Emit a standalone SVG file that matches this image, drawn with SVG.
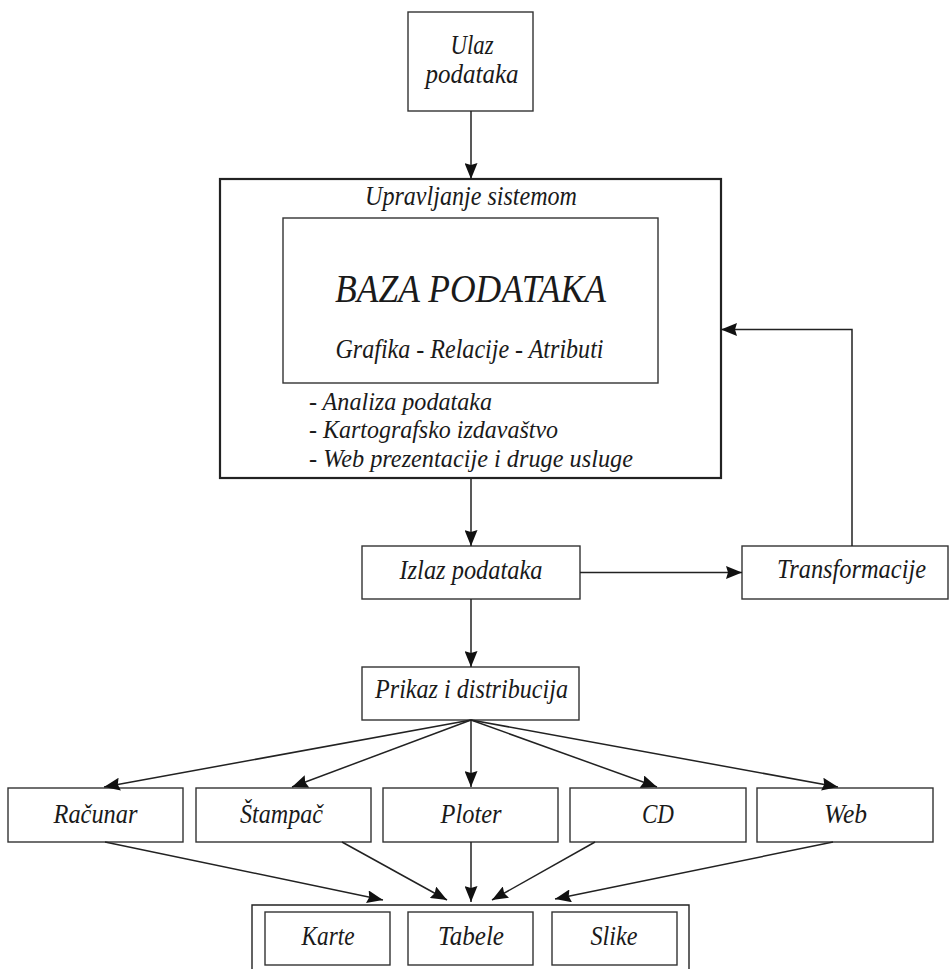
<svg xmlns="http://www.w3.org/2000/svg" width="950" height="969" viewBox="0 0 950 969">
  <style>
    .box { fill: #fff; stroke: #333; stroke-width: 1.4; }
    .thick { fill: none; stroke: #222; stroke-width: 2.2; }
    .t { font-family: "Liberation Serif", "Times New Roman", serif; font-style: italic; font-size: 28px; fill: #1a1a1a; text-anchor: middle; }
    .big { font-size: 40px; }
    .left { text-anchor: start; font-size: 25px; }
    .edge { fill: none; stroke: #222; stroke-width: 1.5; marker-end: url(#arrow); }
    .plain { fill: none; stroke: #222; stroke-width: 1.4; }
  </style>
  <defs>
    <marker id="arrow" viewBox="0 0 16 13" refX="16" refY="6.5" markerWidth="16" markerHeight="13" markerUnits="userSpaceOnUse" orient="auto">
      <path d="M0,0 L16,6.5 L0,13 L2,6.5 z" fill="#111"/>
    </marker>
  </defs>
  <rect width="950" height="969" fill="#fff"/>

  <g id="ulaz">
    <rect class="box" x="408" y="12" width="125" height="99"/>
    <text class="t" x="472" y="54" textLength="43" lengthAdjust="spacingAndGlyphs">Ulaz</text>
    <text class="t" x="472" y="83" textLength="93" lengthAdjust="spacingAndGlyphs">podataka</text>
  </g>

  <g id="upravljanje">
    <rect class="thick" x="220" y="179" width="501" height="299"/>
    <text class="t" x="471" y="205" textLength="212" lengthAdjust="spacingAndGlyphs">Upravljanje sistemom</text>
    <text class="t left" x="309" y="410" textLength="183" lengthAdjust="spacingAndGlyphs">- Analiza podataka</text>
    <text class="t left" x="309" y="438" textLength="249" lengthAdjust="spacingAndGlyphs">- Kartografsko izdavaštvo</text>
    <text class="t left" x="309" y="467" textLength="324" lengthAdjust="spacingAndGlyphs">- Web prezentacije i druge usluge</text>
  </g>

  <g id="baza">
    <rect class="box" x="283" y="218" width="375" height="165"/>
    <text class="t big" x="470.5" y="302" textLength="271" lengthAdjust="spacingAndGlyphs">BAZA PODATAKA</text>
    <text class="t" x="469.5" y="358" textLength="268" lengthAdjust="spacingAndGlyphs">Grafika - Relacije - Atributi</text>
  </g>

  <g id="izlaz">
    <rect class="box" x="362" y="546" width="218" height="53"/>
    <text class="t" x="471" y="579" textLength="143" lengthAdjust="spacingAndGlyphs">Izlaz podataka</text>
  </g>

  <g id="transformacije">
    <rect class="box" x="742" y="546" width="206" height="53"/>
    <text class="t" x="851.5" y="578" textLength="149" lengthAdjust="spacingAndGlyphs">Transformacije</text>
  </g>

  <g id="prikaz">
    <rect class="box" x="362" y="667" width="217" height="53"/>
    <text class="t" x="471.5" y="698" textLength="193" lengthAdjust="spacingAndGlyphs">Prikaz i distribucija</text>
  </g>

  <g id="racunar">
    <rect class="box" x="8" y="788" width="175" height="54"/>
    <text class="t" x="95.5" y="823" textLength="84" lengthAdjust="spacingAndGlyphs">Računar</text>
  </g>
  <g id="stampac">
    <rect class="box" x="196" y="788" width="175" height="54"/>
    <text class="t" x="281.5" y="823" textLength="83" lengthAdjust="spacingAndGlyphs">Štampač</text>
  </g>
  <g id="ploter">
    <rect class="box" x="383" y="788" width="175" height="54"/>
    <text class="t" x="471" y="823" textLength="61" lengthAdjust="spacingAndGlyphs">Ploter</text>
  </g>
  <g id="cd">
    <rect class="box" x="570" y="788" width="176" height="54"/>
    <text class="t" x="658" y="823" textLength="32" lengthAdjust="spacingAndGlyphs">CD</text>
  </g>
  <g id="web">
    <rect class="box" x="757" y="788" width="176" height="54"/>
    <text class="t" x="845.5" y="823" textLength="43" lengthAdjust="spacingAndGlyphs">Web</text>
  </g>

  <g id="izlazni-mediji">
    <path class="plain" d="M252,975 V905 H689 V975"/>
    <g id="karte">
      <rect class="box" x="265" y="912" width="125" height="53"/>
      <text class="t" x="328" y="945" textLength="53" lengthAdjust="spacingAndGlyphs">Karte</text>
    </g>
    <g id="tabele">
      <rect class="box" x="408" y="912" width="125" height="53"/>
      <text class="t" x="471" y="945" textLength="66" lengthAdjust="spacingAndGlyphs">Tabele</text>
    </g>
    <g id="slike">
      <rect class="box" x="552" y="912" width="125" height="53"/>
      <text class="t" x="614" y="945" textLength="47" lengthAdjust="spacingAndGlyphs">Slike</text>
    </g>
  </g>

  <g id="connectors">
    <line class="edge" x1="471" y1="111" x2="471" y2="179"/>
    <line class="edge" x1="471" y1="478" x2="471" y2="546"/>
    <line class="edge" x1="580" y1="572.5" x2="742" y2="572.5"/>
    <polyline class="edge" points="852,546 852,329.5 721,329.5"/>
    <line class="edge" x1="471" y1="599" x2="471" y2="667"/>

    <line class="edge" x1="471" y1="720" x2="104" y2="787"/>
    <line class="edge" x1="471" y1="720" x2="292" y2="787"/>
    <line class="edge" x1="471" y1="720" x2="471" y2="787"/>
    <line class="edge" x1="471" y1="720" x2="657" y2="787"/>
    <line class="edge" x1="471" y1="720" x2="838" y2="787"/>

    <line class="edge" x1="105" y1="842" x2="383" y2="900"/>
    <line class="edge" x1="342" y1="842" x2="447" y2="900"/>
    <line class="edge" x1="471" y1="842" x2="471" y2="902"/>
    <line class="edge" x1="595" y1="842" x2="492" y2="900"/>
    <line class="edge" x1="833" y1="842" x2="555" y2="899"/>
  </g>
</svg>
